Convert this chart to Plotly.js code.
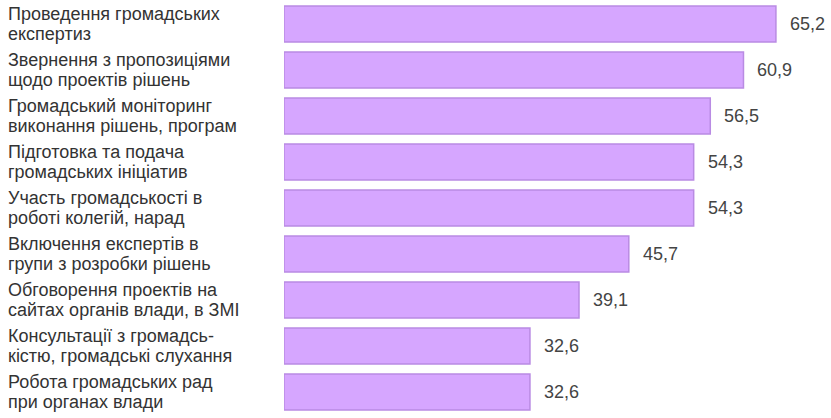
<!DOCTYPE html>
<html>
<head>
<meta charset="utf-8">
<script src="https://cdn.plot.ly/plotly-3.0.1.min.js"></script>
<style>html,body{margin:0;padding:0;background:#fff;}#chart{width:831px;height:418px;}</style>
</head>
<body>
<div id="chart"></div>
<script>
const categories = [
  "Проведення громадських<br>експертиз",
  "Звернення з пропозиціями<br>щодо проектів рішень",
  "Громадський моніторинг<br>виконання рішень, програм",
  "Підготовка та подача<br>громадських ініціатив",
  "Участь громадськості в<br>роботі колегій, нарад",
  "Включення експертів в<br>групи з розробки рішень",
  "Обговорення проектів на<br>сайтах органів влади, в ЗМІ",
  "Консультації з громадсь-<br>кістю, громадські слухання",
  "Робота громадських рад<br>при органах влади"
];
const values = [65.2, 60.9, 56.5, 54.3, 54.3, 45.7, 39.1, 32.6, 32.6];
const valueLabels = values.map(v => v.toFixed(1).replace('.', ','));

const ids = categories.map((c, i) => 'c' + i);
const marginL = 284, W = 831;
const plotW = W - marginL;
const fontFam = 'Liberation Sans, Arial, sans-serif';

const annotations = [];
categories.forEach((c, i) => {
  const lines = c.split('<br>');
  lines.forEach((ln, k) => {
    annotations.push({
      xref: 'paper', yref: 'y', x: -(marginL - 6) / plotW, y: ids[i],
      yshift: (k === 0 ? 10 : -10),
      xanchor: 'left', yanchor: 'middle', align: 'left', showarrow: false,
      text: ln, font: {family: fontFam, size: 18, color: '#333333'}
    });
  });
  annotations.push({
    xref: 'x', yref: 'y', x: values[i], y: ids[i], xshift: 12,
    xanchor: 'left', yanchor: 'middle', showarrow: false,
    text: valueLabels[i], font: {family: fontFam, size: 18, color: '#444444'}
  });
});

const trace = {
  type: 'bar', orientation: 'h', x: values, y: ids,
  marker: {color: '#d6a6ff', line: {color: '#b98be3', width: 1.5}},
  hoverinfo: 'none'
};

const layout = {
  width: W, height: 418,
  margin: {l: marginL, r: 0, t: 1, b: 3, pad: 0},
  paper_bgcolor: '#ffffff', plot_bgcolor: '#ffffff',
  showlegend: false,
  bargap: 0.22,
  xaxis: {range: [0, 72.5], showgrid: false, zeroline: false, showticklabels: false, ticks: '', showline: false},
  yaxis: {type: 'category', autorange: 'reversed', showgrid: false, zeroline: false, showticklabels: false, ticks: '', showline: false},
  annotations: annotations
};

Plotly.newPlot('chart', [trace], layout, {displayModeBar: false, staticPlot: true});
</script>
</body>
</html>
